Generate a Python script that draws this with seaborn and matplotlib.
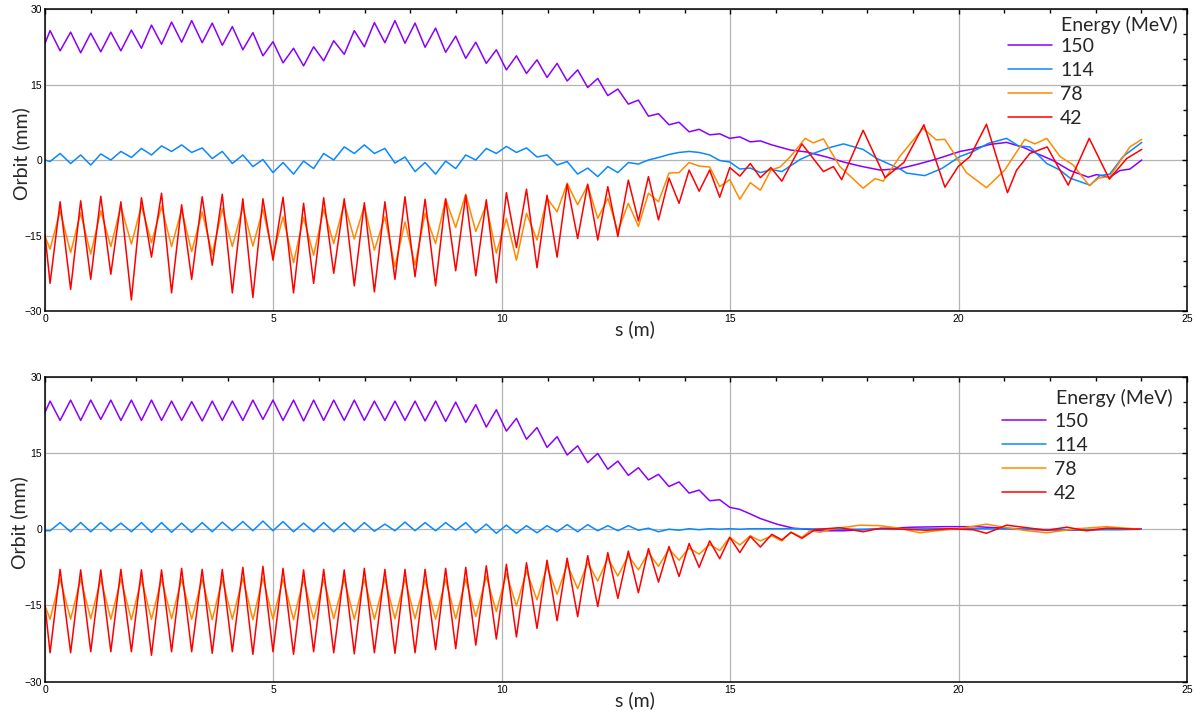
import numpy as np
import pandas as pd
import matplotlib
matplotlib.use("Agg")
import matplotlib.pyplot as plt
import seaborn as sns
from matplotlib.ticker import MultipleLocator


# extrema positions along s (m), shared by all curves up to ~15.7 m
S_OSC = [0.00, 0.11, 0.33, 0.56, 0.78, 1.00, 1.22, 1.44, 1.66, 1.89,
         2.11, 2.33, 2.55, 2.77, 2.99, 3.21, 3.44, 3.66, 3.88, 4.10,
         4.33, 4.55, 4.77, 4.99, 5.21, 5.44, 5.66, 5.88, 6.10, 6.32,
         6.55, 6.77, 6.99, 7.21, 7.44, 7.66, 7.88, 8.10, 8.32, 8.55,
         8.77, 8.99, 9.21, 9.43, 9.66, 9.88, 10.10, 10.32, 10.54, 10.77,
         10.99, 11.21, 11.43, 11.66, 11.88, 12.10, 12.32, 12.54, 12.77, 12.99,
         13.21, 13.43, 13.66, 13.88, 14.10, 14.32, 14.55, 14.77, 14.99, 15.21,
         15.44, 15.66]

ENERGIES = ["150", "114", "78", "42"]
COLORS = ["#8a00ff", "#0a88ff", "#ff8a00", "#ff0000"]

# ---------------- TOP PANEL ----------------
E150_TOP = [23.2, 25.7, 21.7, 25.4, 21.3, 25.2, 21.5, 25.4, 21.7, 25.8,
            22.2, 26.8, 23.0, 27.4, 23.4, 27.7, 23.3, 27.2, 22.8, 26.5,
            21.9, 25.3, 20.7, 23.5, 19.3, 22.2, 18.7, 22.5, 19.7, 23.7,
            21.0, 25.7, 22.5, 27.3, 23.3, 27.7, 23.2, 27.2, 22.4, 26.2,
            21.4, 24.6, 20.2, 23.4, 19.2, 21.9, 17.9, 20.7, 17.2, 19.9,
            16.4, 19.2, 15.7, 17.9, 14.4, 16.2, 12.8, 14.1, 11.1, 11.9,
            8.7, 9.2, 7.0, 7.5, 5.6, 6.1, 5.0, 5.2, 4.3, 4.6,
            3.6, 3.8]
E114_TOP = [0.0, -0.3, 1.3, -0.7, 1.0, -1.0, 1.2, 0.0, 1.7, 0.5,
            2.3, 1.0, 2.8, 1.7, 3.0, 1.5, 2.4, 0.3, 1.7, -0.7,
            1.0, -1.3, 0.1, -2.5, -0.5, -2.8, -0.2, -1.7, 1.3, 0.0,
            2.6, 1.3, 3.0, 1.3, 2.3, -0.6, 0.6, -2.3, -0.5, -2.8,
            -0.2, -1.7, 1.0, 0.0, 2.3, 1.3, 2.7, 1.5, 2.4, 0.6,
            1.0, -1.0, -0.3, -2.8, -1.6, -3.3, -1.3, -2.5, -0.5, -0.8,
            0.0, 0.5, 1.1, 1.5, 1.7, 1.5, 1.0, -0.1, -0.4, -1.8,
            -1.6, -2.5]
E78_TOP = [-15.2, -17.7, -10.1, -18.4, -10.5, -18.7, -10.1, -17.2, -9.2, -16.7,
           -9.1, -16.4, -9.2, -17.2, -9.9, -18.2, -10.3, -18.7, -9.7, -17.2,
           -9.3, -17.1, -9.8, -18.9, -11.3, -20.4, -11.4, -18.9, -9.8, -16.6,
           -8.6, -15.7, -9.1, -17.9, -11.3, -21.2, -12.3, -20.9, -10.6, -16.6,
           -7.8, -13.4, -6.8, -14.2, -8.9, -18.5, -11.6, -19.9, -10.6, -15.9,
           -7.6, -10.3, -4.6, -8.9, -5.0, -11.6, -7.6, -14.2, -8.6, -13.2,
           -6.6, -8.3, -2.6, -2.5, -0.5, -1.2, -1.4, -5.3, -3.9, -7.8,
           -4.5, -6.0]
E42_TOP = [-14.9, -24.5, -8.3, -25.7, -8.1, -23.7, -7.2, -22.7, -8.3, -27.8,
           -7.5, -19.3, -6.6, -26.4, -8.9, -23.7, -7.3, -20.9, -6.8, -26.4,
           -7.7, -27.3, -7.7, -19.9, -7.4, -26.4, -8.6, -24.5, -7.5, -22.5,
           -7.7, -25.0, -8.5, -26.2, -8.3, -23.7, -7.3, -23.2, -7.8, -25.0,
           -7.7, -22.0, -7.0, -23.0, -7.9, -24.4, -6.5, -17.4, -5.8, -21.4,
           -7.0, -19.3, -4.8, -15.6, -4.8, -15.9, -5.3, -15.2, -4.0, -12.1,
           -3.3, -11.9, -3.6, -8.6, -2.0, -6.2, -2.0, -7.4, -1.5, -3.2,
           -0.7, -3.5]

T150_TOP_S = [15.91, 16.31, 16.67, 17.11, 17.48, 17.84, 18.28, 18.72, 19.12, 19.52,
              20.03, 20.32, 20.69, 21.05, 21.42, 21.71, 22.07, 22.44, 22.84, 23.02,
              23.31, 23.53, 23.75, 24.01]
T150_TOP_V = [3.0, 2.0, 1.6, 0.6, -0.4, -1.2, -2.0, -1.7, -0.8, 0.2,
              1.7, 2.2, 3.1, 3.5, 2.5, 1.3, -0.1, -2.1, -3.4, -2.9,
              -3.4, -2.1, -1.8, 0.0]
T114_TOP_S = [15.91, 16.13, 16.53, 16.82, 17.15, 17.48, 17.91, 18.21, 18.72, 18.86,
              19.26, 19.63, 20.03, 20.32, 20.65, 21.05, 21.31, 21.56, 21.93, 22.22,
              22.44, 22.88, 23.09, 23.31, 23.60, 24.01]
T114_TOP_V = [-1.9, -2.3, 0.1, 1.3, 2.4, 3.2, 2.1, 0.3, -1.8, -2.6,
              -3.1, -1.7, 0.7, 1.7, 3.3, 4.3, 2.8, 2.6, -0.7, -2.0,
              -3.6, -5.0, -3.1, -2.8, 0.7, 3.5]
T78_TOP_S = [15.89, 16.09, 16.31, 16.64, 16.82, 17.04, 17.40, 17.91, 18.17, 18.35,
             18.72, 19.22, 19.51, 19.70, 20.17, 20.61, 21.01, 21.45, 21.67, 21.93,
             22.22, 22.51, 22.86, 23.06, 23.31, 23.75, 24.01]
T78_TOP_V = [-2.0, -1.4, 0.6, 4.3, 3.4, 4.2, -1.3, -5.6, -3.7, -4.2,
             0.8, 6.3, 4.0, 4.1, -2.5, -5.5, -2.0, 4.1, 3.2, 4.3,
             0.7, -1.0, -5.1, -3.6, -3.3, 2.6, 4.1]
T42_TOP_S = [15.89, 16.13, 16.57, 17.04, 17.26, 17.44, 17.91, 18.39, 18.80, 19.24,
             19.70, 19.99, 20.25, 20.61, 21.07, 21.27, 21.56, 21.94, 22.40, 22.86,
             23.30, 23.68, 24.01]
T42_TOP_V = [-1.5, -4.2, 3.2, -2.3, -1.3, -3.9, 5.9, -3.5, -0.5, 7.0,
             -5.4, -1.3, 0.7, 7.1, -6.5, -2.0, 1.3, 2.6, -5.0, 4.3,
             -3.8, 0.3, 2.1]

# ---------------- BOTTOM PANEL ----------------
E150_BOT = [23.0, 25.2, 21.4, 25.4, 21.4, 25.4, 21.6, 25.4, 21.4, 25.4,
            21.4, 25.4, 21.4, 25.2, 21.4, 25.1, 21.3, 25.2, 21.4, 25.2,
            21.4, 25.4, 21.6, 25.4, 21.4, 25.4, 21.3, 25.4, 21.4, 25.4,
            21.4, 25.4, 21.4, 25.2, 21.4, 25.2, 21.4, 25.2, 21.3, 25.2,
            21.2, 25.0, 21.0, 24.5, 20.1, 23.5, 19.3, 21.8, 17.7, 20.0,
            16.1, 18.2, 14.6, 16.4, 13.1, 14.9, 11.8, 13.4, 10.6, 12.1,
            9.7, 10.8, 8.4, 9.3, 7.1, 7.7, 5.6, 5.8, 4.3, 3.9,
            3.0, 2.1]
E114_BOT = [-0.3, -0.3, 1.3, -0.5, 1.3, -0.5, 1.3, -0.4, 1.2, -0.5,
            1.3, -0.6, 1.3, -0.6, 1.2, -0.6, 1.3, -0.5, 1.4, -0.3,
            1.5, -0.3, 1.6, -0.3, 1.5, -0.5, 1.2, -0.5, 1.3, -0.5,
            1.3, -0.5, 1.3, -0.4, 1.0, -0.3, 1.4, -0.3, 1.3, -0.3,
            1.3, -0.2, 1.3, -0.7, 1.0, -0.8, 0.8, -0.8, 0.7, -0.7,
            0.7, -0.5, 0.9, -0.5, 0.9, -0.3, 0.7, -0.3, 0.7, -0.2,
            0.2, -0.5, 0.0, -0.2, 0.1, -0.1, 0.1, 0.0, 0.1, 0.0,
            0.1, 0.1]
E78_BOT = [-15.1, -17.7, -9.8, -17.7, -9.8, -17.6, -9.8, -17.7, -9.8, -17.8,
           -9.8, -17.7, -9.8, -17.6, -9.8, -17.7, -9.8, -17.8, -9.8, -17.7,
           -9.6, -17.8, -9.6, -17.7, -9.8, -17.8, -9.8, -17.7, -9.8, -17.6,
           -9.8, -17.7, -9.8, -17.7, -9.8, -17.6, -9.8, -17.6, -10.0, -17.7,
           -9.8, -17.6, -9.8, -17.2, -9.3, -16.2, -8.7, -15.1, -8.2, -13.9,
           -7.3, -12.8, -6.9, -11.7, -6.6, -10.2, -5.7, -9.2, -5.2, -8.0,
           -4.6, -7.3, -3.9, -6.1, -3.7, -4.9, -3.0, -4.2, -1.6, -3.1,
           -1.3, -2.3]
E42_BOT = [-15.1, -24.3, -7.9, -24.3, -8.0, -24.1, -8.0, -24.1, -7.9, -24.1,
           -8.0, -24.8, -8.0, -24.1, -7.7, -24.1, -7.9, -24.4, -7.9, -24.1,
           -7.5, -24.6, -7.3, -24.1, -7.7, -24.6, -8.0, -24.1, -7.9, -24.3,
           -8.0, -24.5, -7.7, -24.3, -7.9, -24.4, -7.9, -24.3, -7.9, -23.7,
           -7.7, -23.5, -7.5, -22.8, -7.2, -21.6, -6.9, -21.2, -6.6, -19.5,
           -6.1, -18.0, -5.7, -17.2, -5.2, -15.2, -4.6, -13.6, -4.3, -12.5,
           -3.8, -10.4, -3.4, -9.3, -2.8, -7.5, -2.3, -5.8, -1.6, -4.6,
           -1.4, -3.5]

T150_BOT_S = [16.02, 16.38, 16.67, 16.96, 17.50, 18.30, 19.00, 19.70, 20.40, 21.00,
              21.70, 22.40, 23.20, 24.00]
T150_BOT_V = [1.0, 0.2, 0.0, -0.3, -0.3, 0.1, 0.4, 0.5, 0.5, 0.2,
              -0.1, -0.2, 0.0, 0.1]
T114_BOT_S = [16.50, 17.50, 18.50, 19.50, 20.50, 21.50, 22.50, 23.50, 24.00]
T114_BOT_V = [0.1, 0.0, 0.0, 0.1, 0.1, 0.0, -0.1, -0.1, 0.0]
T78_BOT_S = [15.91, 16.13, 16.33, 16.57, 16.75, 16.97, 17.20, 17.84, 18.28, 18.70,
             19.15, 19.52, 20.00, 20.61, 21.05, 21.50, 21.93, 22.60, 23.24, 23.97]
T78_BOT_V = [-1.3, -2.3, -0.6, -1.6, -0.3, -0.6, 0.0, 0.8, 0.7, 0.2,
             -0.7, -0.3, 0.1, 1.0, 0.3, -0.3, -0.7, 0.1, 0.5, 0.0]
T42_BOT_S = [15.91, 16.13, 16.33, 16.57, 16.85, 17.10, 17.40, 17.91, 18.29, 18.80,
             19.30, 19.80, 20.32, 20.61, 21.05, 21.49, 21.93, 22.37, 22.80, 23.24,
             23.97]
T42_BOT_V = [-1.0, -2.1, -0.6, -1.8, -0.1, 0.1, 0.3, -0.5, 0.2, 0.0,
             -0.2, 0.1, -0.1, -0.8, 0.8, 0.3, -0.2, 0.4, -0.3, 0.2,
             0.0]


def make_frame(osc, tail_s, tail_v):
    frames = []
    for lab, o, ts, tv in zip(ENERGIES, osc, tail_s, tail_v):
        frames.append(pd.DataFrame({"s": S_OSC + ts, "orbit": o + tv, "energy": lab}))
    return pd.concat(frames, ignore_index=True)


df_top = make_frame([E150_TOP, E114_TOP, E78_TOP, E42_TOP],
                    [T150_TOP_S, T114_TOP_S, T78_TOP_S, T42_TOP_S],
                    [T150_TOP_V, T114_TOP_V, T78_TOP_V, T42_TOP_V])
df_bot = make_frame([E150_BOT, E114_BOT, E78_BOT, E42_BOT],
                    [T150_BOT_S, T114_BOT_S, T78_BOT_S, T42_BOT_S],
                    [T150_BOT_V, T114_BOT_V, T78_BOT_V, T42_BOT_V])

sns.set_theme(style="white")
plt.rcParams["font.family"] = ["Lato", "DejaVu Sans"]

fig = plt.figure(figsize=(11.95, 7.14), dpi=100)
ax1 = fig.add_axes([0.0377, 0.5644, 0.9556, 0.4230])
ax2 = fig.add_axes([0.0377, 0.0452, 0.9556, 0.4272])


def draw_panel(ax, df, leg_xy, title_xy, ylab_xy):
    sns.lineplot(data=df, x="s", y="orbit", hue="energy", hue_order=ENERGIES,
                 palette=COLORS, estimator=None, sort=False, lw=1.1, ax=ax)
    ax.set_xlim(0, 25)
    ax.set_ylim(-30, 30)
    ax.xaxis.set_major_locator(MultipleLocator(5))
    ax.xaxis.set_minor_locator(MultipleLocator(1))
    ax.yaxis.set_major_locator(MultipleLocator(15))
    ax.yaxis.set_minor_locator(MultipleLocator(5))
    ax.tick_params(which="both", direction="in", top=True, right=True,
                   width=1.0, color="black", labelsize=7.5, labelcolor="black", pad=2)
    ax.tick_params(which="major", length=3.5)
    ax.tick_params(which="minor", length=3.0)
    for lbl in ax.get_xticklabels() + ax.get_yticklabels():
        lbl.set_family(["Liberation Sans", "DejaVu Sans"])
    ax.grid(True, which="major", color="#b4b4b4", lw=0.9)
    for sp in ax.spines.values():
        sp.set_color("black")
        sp.set_linewidth(1.1)

    ax.set_xlabel("s (m)", fontsize=14)
    ax.xaxis.set_label_coords(0.517, -0.03)
    ax.set_ylabel("Orbit (mm)", fontsize=14)
    ax.yaxis.set_label_coords(*ylab_xy)

    handles, labels = ax.get_legend_handles_labels()
    ax.legend(handles, labels, loc="upper left", bbox_to_anchor=leg_xy,
              frameon=False, fontsize=14, handlelength=2.3, handletextpad=0.4,
              labelspacing=0.36, borderpad=0, borderaxespad=0)
    ax.text(title_xy[0], title_xy[1], "Energy (MeV)", transform=ax.transAxes,
            ha="left", va="center", fontsize=14)


draw_panel(ax1, df_top, (0.843, 0.905), (0.8897, 0.947), (-0.013, 0.52))
draw_panel(ax2, df_bot, (0.8377, 0.881), (0.8853, 0.930), (-0.015, 0.52))

fig.savefig("out.png", dpi=100)
